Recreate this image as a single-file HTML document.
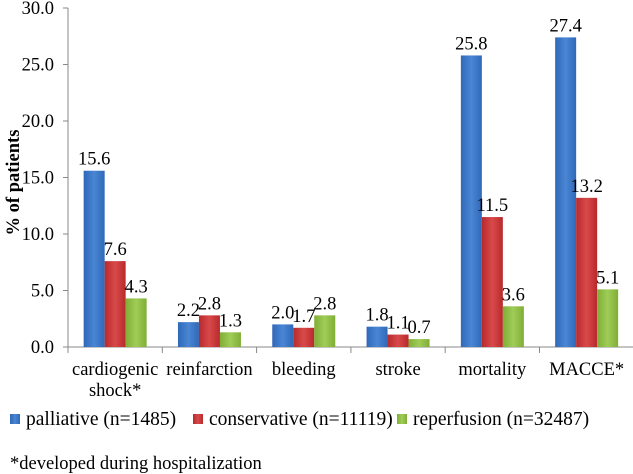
<!DOCTYPE html>
<html><head><meta charset="utf-8"><style>
body{margin:0;background:#fff;}
svg{display:block;font-family:"Liberation Serif",serif;}
</style></head><body>
<svg id="c" width="633" height="474">
<defs>
<linearGradient id="gb" x1="0" x2="1"><stop offset="0" stop-color="#2f68b8"/><stop offset="0.5" stop-color="#4a86d4"/><stop offset="1" stop-color="#2f68b8"/></linearGradient>
<linearGradient id="gr" x1="0" x2="1"><stop offset="0" stop-color="#b8292c"/><stop offset="0.5" stop-color="#d84a4a"/><stop offset="1" stop-color="#b8292c"/></linearGradient>
<linearGradient id="gg" x1="0" x2="1"><stop offset="0" stop-color="#7fae35"/><stop offset="0.5" stop-color="#a0cc58"/><stop offset="1" stop-color="#7fae35"/></linearGradient>
</defs>
</svg>
<script>
const categories=[["cardiogenic","shock*"],["reinfarction"],["bleeding"],["stroke"],["mortality"],["MACCE*"]];
const palliative=[15.6,2.2,2.0,1.8,25.8,27.4];
const conservative=[7.6,2.8,1.7,1.1,11.5,13.2];
const reperfusion=[4.3,1.3,2.8,0.7,3.6,5.1];
const yTicks=[0,5,10,15,20,25,30];
const seriesNames=["palliative (n=1485)","conservative (n=11119)","reperfusion (n=32487)"];
const NS="http://www.w3.org/2000/svg";
const svg=document.getElementById('c');
const x0=68,cw=94.3,y0=347,ppu=11.3,bw=21,fs=18.5;
const y=v=>y0-v*ppu;
function el(t,a,p){const e=document.createElementNS(NS,t);for(const k in a)e.setAttribute(k,a[k]);(p||svg).appendChild(e);return e;}
const ax=el('line',{x1:x0,y1:y(30),x2:x0,y2:y0,stroke:'#888'});


const bx=el('line',{x1:x0,y1:y0,x2:x0+cw*6,y2:y0,stroke:'#888'});


yTicks.forEach(t=>{
 el('line',{x1:x0-5,y1:y(t),x2:x0,y2:y(t),stroke:'#888'});
 const tx=el('text',{x:x0-14,y:y(t)+6,'text-anchor':'end','font-size':fs});tx.textContent=t.toFixed(1);
 
 
});
for(let i=0;i<=6;i++)el('line',{x1:x0+i*cw,y1:y0,x2:x0+i*cw,y2:y0+6,stroke:'#888'});
const yt=el('text',{x:0,y:0,transform:'translate(19,'+(y(15)+5)+') rotate(-90)','text-anchor':'middle','font-size':fs,'font-weight':'bold'});
yt.textContent='% of patients';


const series=[palliative,conservative,reperfusion],fills=['url(#gb)','url(#gr)','url(#gg)'];
categories.forEach((c,i)=>{
 const gx=x0+i*cw+(cw-3*bw)/2;
 series.forEach((s,j)=>{
  const r=el('rect',{x:gx+j*bw,y:y(s[i]),width:bw,height:s[i]*ppu,fill:fills[j]});
  
  
  const l=el('text',{x:gx+j*bw+bw/2,y:y(s[i])-6,'text-anchor':'middle','font-size':fs});l.textContent=s[i].toFixed(1);
  
  
 });
 c.forEach((w,k)=>{const t=el('text',{x:x0+i*cw+cw/2,y:375+k*21,'text-anchor':'middle','font-size':fs});t.textContent=w;
  
  });
});
const lx=[10,193,397];
seriesNames.forEach((n,j)=>{
 el('rect',{x:lx[j],y:414,width:10,height:10,fill:fills[j]});
 const t=el('text',{x:lx[j]+16,y:425,'font-size':19.5});t.textContent=n;
 
 
});
const note=el('text',{x:10,y:469,'font-size':fs});note.textContent='*developed during hospitalization';


</script>
</body></html>
